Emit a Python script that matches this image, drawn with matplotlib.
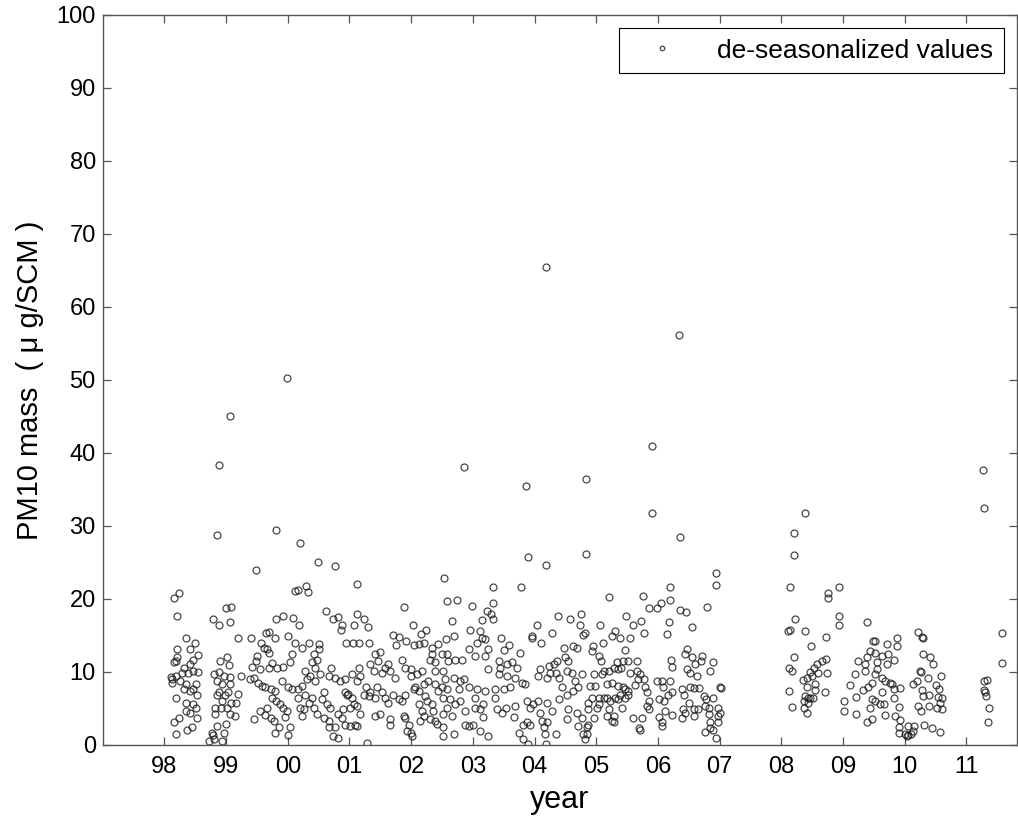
import matplotlib
matplotlib.use('Agg')
import matplotlib.pyplot as plt

plt.rcParams['font.family'] = ['Liberation Sans', 'DejaVu Sans']

# de-seasonalized PM10 values, (year since 1900, ug/SCM)
pts_1998_2000 = [
    (98.89, 38.4), (98.85, 28.8), (99.81, 29.5), (99.48, 23.9), (99.06, 45.1), (99.99, 50.3),
    (98.16, 20.2), (98.24, 20.8), (98.21, 17.7), (98.35, 14.6), (98.49, 13.9), (98.21, 13.1),
    (98.42, 13.2), (98.55, 12.3), (98.20, 12.0), (98.15, 11.3), (98.18, 11.5), (98.47, 11.7),
    (98.42, 11.1), (98.31, 10.6), (98.54, 10.0), (98.46, 10.2), (98.12, 9.1), (98.18, 9.5),
    (98.26, 8.7), (98.35, 8.3), (98.52, 8.3), (98.47, 7.6), (98.31, 7.6), (98.42, 7.4),
    (98.53, 6.9), (98.18, 6.5), (98.35, 5.8), (98.46, 5.6), (98.52, 5.0), (98.35, 4.6),
    (98.42, 4.4), (98.53, 3.7), (98.23, 3.7), (98.15, 3.1), (98.45, 2.4), (98.36, 2.1),
    (98.19, 1.5), (98.10, 9.3), (98.28, 9.9), (98.38, 9.8), (98.13, 8.5),
    (99.00, 18.7), (99.08, 18.9), (98.78, 17.3), (98.88, 16.4), (99.07, 16.8), (99.19, 14.7),
    (98.90, 11.5), (99.01, 12.0), (99.04, 11.0), (98.81, 9.7), (98.89, 10.0), (98.97, 9.5),
    (99.06, 9.3), (99.24, 9.5), (98.85, 8.8), (98.93, 8.3), (99.07, 8.3), (98.89, 7.2),
    (98.85, 6.9), (98.99, 6.9), (99.03, 7.2), (99.20, 7.0), (98.93, 6.0), (99.08, 5.8),
    (99.16, 5.8), (98.82, 5.1), (98.91, 5.0), (99.01, 5.1), (99.15, 3.9), (99.07, 4.2),
    (98.82, 4.2), (98.85, 2.6), (98.77, 1.6), (98.79, 1.4), (98.97, 1.6), (98.73, 0.5),
    (98.94, 0.5), (98.80, 0.8), (99.00, 2.9),
    (99.41, 14.7), (99.64, 15.3), (99.69, 15.5), (99.57, 14.0), (99.61, 13.3), (99.66, 13.1),
    (99.70, 12.6), (99.50, 12.2), (99.49, 11.5), (99.81, 17.3), (99.92, 17.6), (100.08, 17.4),
    (99.80, 14.7), (100.01, 14.9), (100.11, 14.0), (100.07, 12.4), (100.04, 11.3), (99.42, 10.7),
    (99.55, 10.4), (99.69, 10.6), (99.74, 11.2), (99.82, 10.6), (99.93, 10.7), (99.39, 9.0),
    (99.45, 9.2), (99.51, 8.5), (99.58, 8.1), (99.63, 7.9), (99.72, 7.6), (99.80, 7.4),
    (99.91, 8.8), (100.01, 7.9), (100.07, 7.6), (99.74, 6.5), (99.81, 6.0), (99.88, 5.6),
    (99.93, 5.1), (99.99, 4.7), (99.66, 5.1), (99.55, 4.7), (99.46, 3.6), (99.63, 4.1),
    (99.72, 3.7), (99.78, 3.3), (99.95, 3.8), (99.80, 1.6), (99.86, 2.4), (100.00, 1.4),
    (100.03, 2.4), (100.12, 21.1),
]

pts_2000_2002 = [
    (100.19, 27.6), (100.49, 25.1), (100.77, 24.5), (101.12, 22.1), (100.16, 21.2), (100.29, 21.8),
    (100.33, 21.0), (101.88, 18.9), (100.62, 18.3), (100.81, 17.5), (100.73, 17.2), (101.12, 18.0),
    (101.24, 17.2), (100.88, 16.4), (100.86, 15.8), (101.08, 16.4), (101.30, 16.1), (100.18, 16.5),
    (102.03, 16.5), (102.24, 15.8), (102.16, 15.2), (100.34, 14.0), (100.23, 13.3), (100.94, 14.0),
    (101.06, 14.0), (101.15, 13.9), (101.32, 13.9), (101.70, 15.0), (101.80, 14.8), (101.75, 13.7),
    (101.91, 14.2), (102.04, 13.7), (102.12, 13.8), (102.20, 14.0), (102.34, 13.3), (102.43, 13.8),
    (100.51, 13.8), (100.50, 13.1), (100.42, 12.4), (100.47, 11.7), (100.39, 11.3), (100.44, 10.6),
    (100.28, 10.1), (100.36, 9.5), (100.31, 9.0), (100.23, 8.1), (100.17, 7.6), (100.44, 8.8),
    (100.53, 9.7), (100.66, 9.5), (100.70, 10.6), (100.77, 9.2), (100.85, 8.8), (100.93, 9.0),
    (101.04, 9.7), (101.15, 10.6), (101.17, 9.5), (101.12, 8.8), (101.34, 11.1), (101.42, 12.4),
    (101.50, 12.7), (101.47, 11.5), (101.39, 10.1), (101.53, 9.9), (101.63, 11.1), (101.58, 10.6),
    (101.66, 10.1), (101.74, 9.2), (101.85, 11.7), (101.90, 10.6), (101.99, 10.4), (101.99, 9.5),
    (102.09, 9.7), (102.17, 10.1), (102.34, 12.4), (102.31, 11.7), (102.39, 11.3), (102.39, 10.1),
    (102.28, 8.8), (102.20, 8.3), (102.07, 7.9), (102.12, 7.4), (102.23, 6.7), (102.39, 8.3),
    (102.44, 7.4),
    (100.17, 6.5), (100.28, 6.9), (100.34, 5.8), (100.26, 4.9), (100.20, 5.1), (100.23, 4.0),
    (100.39, 6.5), (100.42, 5.1), (100.47, 4.2), (100.58, 7.2), (100.55, 6.3), (100.63, 5.6),
    (100.69, 5.1), (100.58, 3.7), (100.66, 3.3), (100.77, 2.4), (100.74, 1.2), (100.82, 1.0),
    (100.82, 4.2), (100.90, 4.9), (100.93, 7.2), (100.98, 7.0), (100.96, 6.8), (101.04, 6.5),
    (101.08, 5.6), (101.01, 5.1), (101.12, 5.3), (101.17, 4.3), (101.09, 2.8), (101.01, 2.6),
    (101.26, 7.9), (101.23, 6.9), (101.31, 6.7), (101.42, 6.5), (101.34, 7.2), (101.44, 7.9),
    (101.53, 7.2), (101.58, 6.5), (101.63, 5.8), (101.42, 4.0), (101.28, 0.3), (101.50, 4.2),
    (101.66, 3.5), (101.66, 2.8), (101.71, 6.9), (101.80, 6.3), (101.85, 6.0), (101.90, 6.9),
    (101.88, 4.0), (101.90, 3.7), (101.96, 2.8), (101.93, 1.9), (102.01, 1.2), (102.00, 1.7),
    (102.04, 7.6), (102.12, 5.6), (102.17, 4.7), (102.20, 4.0), (102.15, 3.3), (102.26, 6.0),
    (102.34, 5.6), (102.36, 4.7), (102.39, 3.3), (102.31, 3.5), (102.42, 2.9), (100.93, 2.8),
    (100.88, 3.7), (101.12, 2.6), (100.66, 2.5),
]

pts_2002_2004 = [
    (102.86, 38.1), (103.86, 35.5), (103.90, 25.7), (104.19, 24.7), (104.19, 65.5),
    (102.54, 22.9), (103.32, 21.6), (103.78, 21.6), (102.58, 19.7), (102.75, 19.9), (102.99, 19.1),
    (103.32, 19.5), (103.23, 18.4), (103.29, 17.9), (103.32, 17.2), (102.66, 17.0), (103.15, 17.1),
    (104.38, 17.7), (104.75, 17.9), (104.58, 17.2), (104.74, 16.5), (104.04, 16.4), (103.96, 14.9),
    (103.96, 14.7), (104.10, 13.9), (104.28, 15.3), (104.78, 15.0), (102.96, 15.7), (103.12, 15.6),
    (103.15, 14.7), (103.06, 14.0), (103.20, 14.5), (103.24, 13.1), (103.45, 14.7), (103.58, 13.7),
    (103.50, 13.0), (103.77, 12.6), (102.69, 14.9), (102.57, 14.5), (102.93, 13.1), (103.03, 12.2),
    (103.20, 12.2), (102.58, 12.4), (102.50, 12.4), (102.60, 11.5), (102.71, 11.7), (102.82, 11.6),
    (104.47, 13.3), (104.63, 13.6), (104.69, 13.3), (104.50, 12.0), (104.55, 11.5), (104.36, 11.5),
    (104.31, 11.1), (104.23, 10.8), (104.09, 10.4), (104.06, 9.5), (104.20, 9.2), (104.25, 9.9),
    (104.34, 9.9), (104.39, 9.2), (104.44, 7.9), (104.52, 10.1), (104.60, 9.9), (104.66, 8.8),
    (104.77, 9.7), (104.71, 7.9), (104.63, 7.4), (103.42, 11.5), (103.44, 10.6), (103.55, 11.1),
    (103.63, 11.3), (103.71, 10.6), (103.42, 9.7), (103.55, 9.5), (103.69, 9.2), (103.79, 8.5),
    (103.85, 8.3), (103.50, 7.6), (103.60, 7.9), (103.36, 7.6), (103.25, 10.4), (102.52, 10.1),
    (102.55, 9.0), (102.69, 9.2), (102.79, 8.8), (102.85, 9.0), (102.50, 7.9), (102.58, 7.6),
    (102.77, 7.6), (102.93, 7.9), (103.06, 7.6), (103.20, 7.4), (102.52, 6.5), (102.63, 6.3),
    (102.79, 6.0), (103.04, 6.5), (103.17, 5.6), (102.58, 5.1), (102.71, 5.6), (102.88, 4.7),
    (103.04, 5.1), (103.12, 4.9), (103.36, 6.5), (103.39, 4.9), (103.47, 4.4), (103.53, 5.1),
    (103.69, 5.3), (103.88, 6.0), (103.98, 5.6), (104.06, 6.0), (104.20, 5.8), (103.93, 5.1),
    (104.09, 4.4), (104.28, 4.7), (104.39, 6.3), (104.55, 4.9), (104.69, 4.4), (104.77, 3.7),
    (102.52, 4.2), (102.66, 4.0), (103.17, 3.8), (103.66, 3.8), (102.88, 2.8), (102.93, 2.6),
    (103.01, 2.7), (102.52, 2.5), (103.12, 1.9), (103.24, 1.2), (102.69, 1.5), (102.52, 1.2),
    (103.81, 2.8), (103.88, 3.1), (103.93, 2.7), (103.74, 1.6), (103.82, 0.8), (103.90, 0.2),
    (104.12, 3.3), (104.20, 3.1), (104.15, 2.4), (104.17, 1.5), (104.34, 1.5), (104.19, 0.2),
    (104.52, 3.5), (104.71, 2.6), (104.78, 1.5), (104.52, 6.9),
]

pts_2004_2007 = [
    (105.90, 40.9), (105.90, 31.8), (106.36, 28.5), (104.84, 36.4), (104.84, 26.1), (106.34, 56.2),
    (106.94, 23.5), (106.94, 21.9), (106.19, 21.6), (105.21, 20.3), (105.76, 20.4), (106.20, 19.9),
    (106.05, 19.5), (105.86, 18.7), (105.99, 18.7), (106.36, 18.5), (106.45, 18.2), (106.80, 18.9),
    (105.48, 17.6), (105.72, 17.0), (106.18, 16.9), (105.06, 16.4), (105.59, 16.5), (105.77, 15.3),
    (106.14, 15.2), (106.55, 16.2), (105.31, 15.6), (105.25, 14.9), (105.39, 14.6), (105.55, 14.7),
    (105.11, 13.9), (104.94, 13.6), (104.93, 12.9), (105.46, 13.0), (105.05, 12.2), (105.08, 11.5),
    (106.47, 13.2), (106.44, 12.4), (106.56, 12.1), (106.69, 11.5), (106.72, 12.2), (106.60, 11.1),
    (106.89, 11.4), (106.21, 11.7), (106.23, 10.7), (106.47, 10.4), (106.52, 9.9), (106.85, 10.1),
    (106.63, 9.5), (104.82, 15.3),
    (105.12, 10.1), (105.20, 10.1), (105.28, 10.6), (105.36, 10.4), (105.33, 11.3), (105.44, 11.5),
    (105.52, 11.5), (105.66, 11.5), (105.40, 10.6), (105.55, 9.9), (105.66, 10.1), (105.71, 9.7),
    (105.77, 9.0), (105.68, 9.1), (105.09, 9.7), (104.96, 9.7), (104.90, 8.1), (104.98, 8.1),
    (105.17, 8.3), (105.25, 8.5), (105.36, 8.1), (105.44, 7.9), (105.47, 7.6), (105.52, 7.4),
    (105.63, 8.2), (105.39, 6.9), (105.31, 6.5), (105.47, 6.5), (105.52, 6.9), (104.93, 6.5),
    (104.87, 5.8), (105.04, 6.5), (105.12, 6.5), (105.17, 6.5), (105.04, 5.6), (105.01, 5.1),
    (105.23, 6.0), (105.36, 6.3), (105.41, 5.1), (105.20, 4.9), (104.87, 4.9), (104.96, 3.7),
    (105.17, 4.0), (105.28, 4.0), (105.28, 3.2), (105.25, 3.3), (104.86, 2.8), (104.85, 2.4),
    (104.85, 1.5), (104.82, 0.8), (105.60, 3.7), (105.74, 3.7), (105.70, 2.3), (105.71, 2.1),
    (105.79, 7.9), (105.82, 7.2), (105.85, 6.0), (105.82, 5.3), (105.85, 4.9), (105.98, 8.8),
    (106.07, 8.8), (106.19, 8.7), (106.08, 7.9), (106.01, 6.3), (106.10, 6.0), (106.17, 6.9),
    (106.23, 7.2), (106.01, 3.8), (106.07, 3.1), (106.06, 2.6), (106.12, 4.7), (106.22, 4.1),
    (106.39, 7.6), (106.43, 6.9), (106.52, 7.9), (106.59, 7.8), (106.67, 7.8), (106.50, 5.8),
    (106.41, 4.9), (106.44, 4.4), (106.39, 3.7), (106.58, 4.9), (106.65, 4.9), (106.58, 4.0),
    (106.74, 6.7), (106.78, 6.3), (106.77, 5.3), (106.82, 5.1), (106.89, 6.4), (107.01, 7.9),
    (107.03, 7.8), (106.98, 5.1), (107.01, 4.4), (106.97, 4.0), (106.98, 3.1), (106.85, 3.1),
    (106.77, 1.8), (106.84, 2.3), (106.90, 2.0), (106.94, 1.0), (106.82, 4.3),
]

pts_2008_2009 = [
    (108.38, 31.8), (108.20, 29.0), (108.21, 26.0), (108.14, 21.6), (108.75, 20.8), (108.75, 20.2),
    (108.93, 21.7), (108.94, 17.6), (108.94, 16.4), (108.22, 17.2), (108.11, 15.6), (108.14, 15.8),
    (108.39, 15.6), (108.48, 13.6), (108.73, 14.8), (108.20, 12.1), (108.12, 10.6), (108.18, 10.1),
    (108.58, 11.1), (108.66, 11.5), (108.72, 11.8), (108.47, 10.0), (108.53, 10.6), (108.59, 9.8),
    (108.74, 9.9), (108.35, 8.9), (108.41, 9.2), (108.49, 9.5), (108.54, 8.3), (108.42, 7.9),
    (108.54, 7.5), (108.13, 7.4), (108.71, 7.3), (108.39, 6.7), (108.43, 6.5), (108.47, 6.4),
    (108.52, 6.4), (108.36, 6.0), (108.44, 5.8), (108.17, 5.2), (108.37, 5.1), (108.41, 4.4),
    (109.39, 16.8), (109.49, 14.2), (109.43, 12.9), (109.25, 11.5), (109.39, 12.0), (109.36, 11.1),
    (109.36, 10.1), (109.20, 9.7), (109.12, 8.2), (109.33, 7.5), (109.41, 7.9), (109.21, 6.6),
    (109.02, 6.0), (109.02, 4.6), (109.21, 4.3), (109.39, 3.1), (109.47, 3.5), (109.44, 5.1),
    (109.47, 6.3), (109.47, 8.5),
]

pts_2009_2011 = [
    (109.52, 14.2), (109.71, 13.8), (109.87, 14.6), (109.87, 13.6), (109.52, 12.6), (109.63, 12.2),
    (109.73, 12.4), (109.83, 11.6), (109.71, 11.1), (109.55, 11.3), (109.55, 10.4), (109.52, 9.7),
    (109.64, 9.2), (109.68, 8.7), (109.76, 8.5), (109.79, 8.3), (109.82, 7.6), (109.93, 7.8),
    (109.63, 7.2), (109.52, 6.0), (109.60, 5.6), (109.67, 5.6), (109.82, 6.4), (109.90, 5.2),
    (109.68, 4.1), (109.84, 4.0), (109.93, 3.4), (109.90, 2.4), (109.91, 1.7), (110.01, 1.5),
    (110.03, 1.2), (110.06, 2.6), (110.13, 1.9), (110.15, 2.6), (110.11, 1.5), (110.06, 1.3),
    (110.21, 15.5), (110.28, 14.8), (110.30, 14.7), (110.29, 12.4), (110.41, 12.1), (110.46, 11.1),
    (110.25, 10.1), (110.27, 10.0), (110.38, 9.2), (110.59, 9.4), (110.20, 8.8), (110.13, 8.3),
    (110.51, 8.2), (110.55, 7.7), (110.28, 7.5), (110.29, 6.7), (110.40, 6.8), (110.54, 6.6),
    (110.60, 6.5), (110.57, 5.8), (110.60, 4.9), (110.52, 5.0), (110.22, 5.3), (110.26, 4.7),
    (110.40, 5.4), (110.32, 2.7), (110.44, 2.3), (110.57, 1.8),
    (111.27, 37.6), (111.28, 32.5), (111.58, 15.3), (111.57, 11.2), (111.33, 8.9), (111.29, 8.7),
    (111.29, 7.5), (111.30, 7.2), (111.32, 6.7), (111.36, 5.1), (111.35, 3.2),
]

year_ticks = list(range(98, 112))
year_labels = ['98', '99', '00', '01', '02', '03', '04', '05', '06', '07', '08', '09', '10', '11']
pm_ticks = list(range(0, 101, 10))

segments = [pts_1998_2000, pts_2000_2002, pts_2002_2004, pts_2004_2007, pts_2008_2009, pts_2009_2011]
t = [p[0] for seg in segments for p in seg]
pm = [p[1] for seg in segments for p in seg]

fig = plt.figure(figsize=(10.18, 8.27), dpi=100)
ax = fig.add_axes([0.1009, 0.0992, 0.8981, 0.8827])

ax.plot(t, pm, 'o', linestyle='none', mfc='none', mec='#1a1a1a', ms=5.0, mew=0.9,
        alpha=0.8, label='de-seasonalized values')

ax.set_xlim(97.0, 111.82)
ax.set_ylim(0, 100)
ax.set_xticks(year_ticks)
ax.set_xticklabels(year_labels)
ax.set_yticks(pm_ticks)

for s in ax.spines.values():
    s.set_color('#555555')
    s.set_linewidth(1.0)
ax.tick_params(direction='in', top=True, right=True, length=6, width=0.9,
               color='#555555', labelsize=17)
ax.tick_params(axis='x', pad=8)
ax.tick_params(axis='y', pad=5)

ax.set_xlabel('year', fontsize=22, labelpad=5)
ax.set_ylabel('PM10 mass  ( μ g/SCM )', fontsize=21, labelpad=9)

leg = ax.legend(loc='upper right', fontsize=19, markerscale=0.65, fancybox=False,
                edgecolor='black', framealpha=1, borderaxespad=0.5,
                handlelength=2.4, handletextpad=0.9, borderpad=0.4)
leg.get_frame().set_linewidth(0.8)

fig.savefig('out.png', dpi=100)
